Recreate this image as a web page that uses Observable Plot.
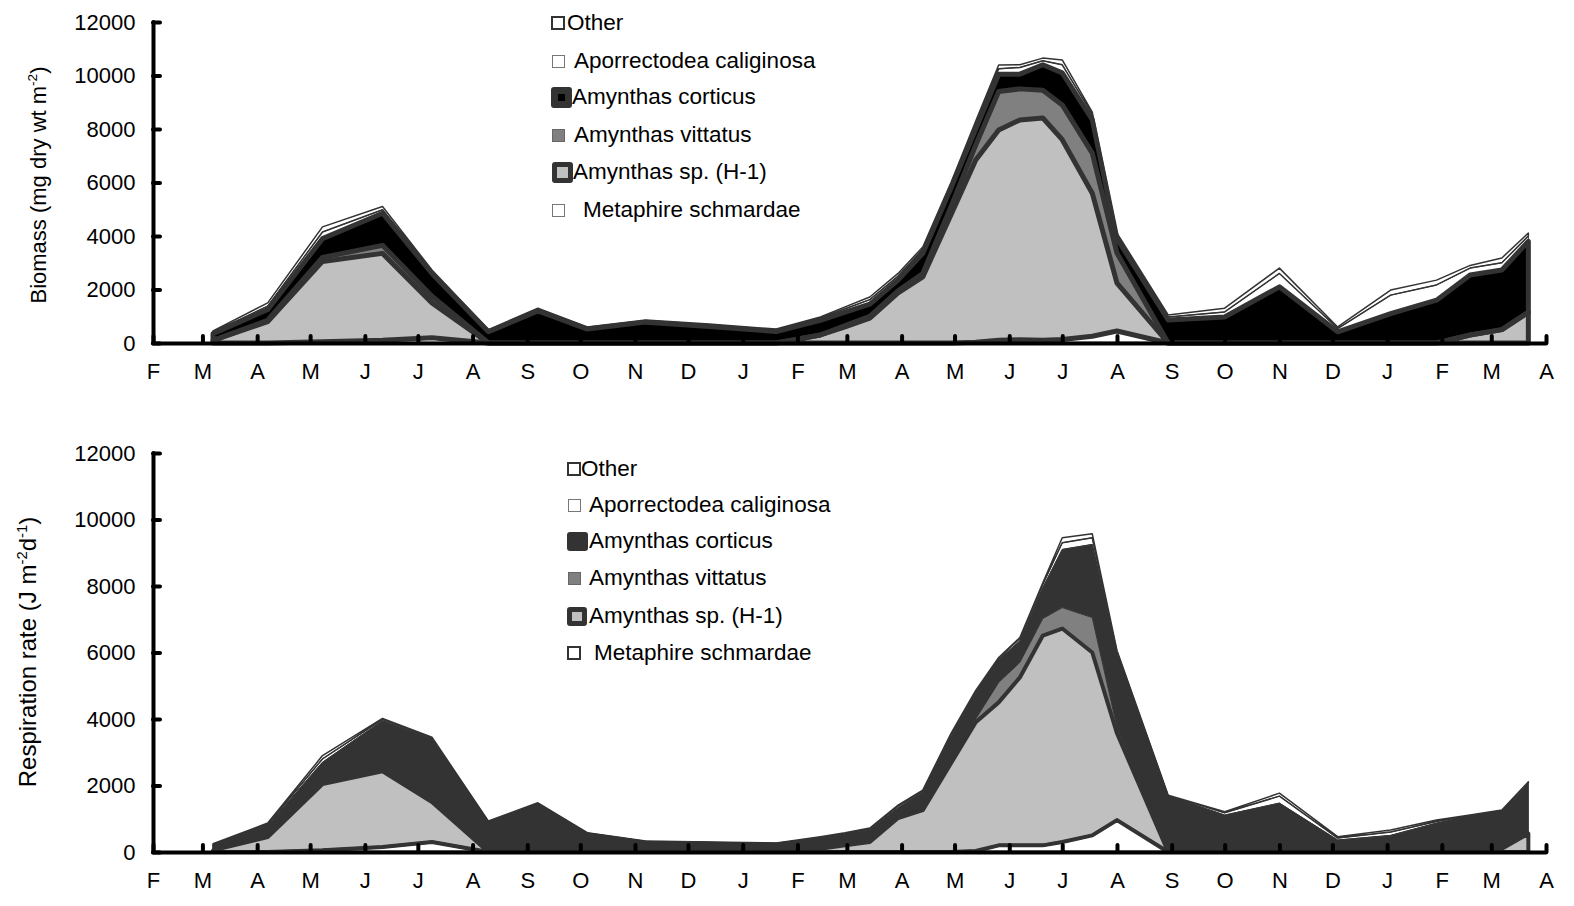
<!DOCTYPE html>
<html><head><meta charset="utf-8">
<script src="https://cdn.jsdelivr.net/npm/d3@7"></script>
<script src="https://cdn.jsdelivr.net/npm/@observablehq/plot@0.6"></script>
<style>
body{margin:0;background:#fff;font-family:"Liberation Sans",Arial,sans-serif;}
#wrap{position:relative;width:1574px;height:906px;overflow:hidden;}
#wrap svg{position:absolute;left:0;}
</style></head><body><div id="wrap"></div>
<script>
// ---- data ----
const sampleDates = ["2001-03-07","2001-04-07","2001-05-08","2001-06-11","2001-07-09","2001-08-10","2001-09-07","2001-10-05","2001-11-07","2001-12-13","2002-01-20","2002-02-14","2002-02-28","2002-03-14","2002-03-30","2002-04-13","2002-04-29","2002-05-13","2002-05-26","2002-06-07","2002-06-20","2002-07-01","2002-07-18","2002-08-01","2002-08-30","2002-10-01","2002-11-01","2002-12-04","2003-01-03","2003-01-29","2003-02-17","2003-03-07","2003-03-22"];
// stack order, bottom to top
const speciesNames = ["Metaphire schmardae","Amynthas sp. (H-1)","Amynthas vittatus","Amynthas corticus","Aporrectodea caliginosa","Other"];
// legend order (top to bottom)
const legendLabels = ["Other","Aporrectodea caliginosa","Amynthas corticus","Amynthas vittatus","Amynthas sp. (H-1)","Metaphire schmardae"];

// Biomass (mg dry wt m-2)
const bioMetaphire    = [0,0,50,100,200,0,0,0,0,0,0, 0,0,0,0,0,0,30,100,120,100,130,250,450, 0,0,0,0,0,0,0,0,0];
const bioAmynthasH1   = [100,800,3000,3250,1300,0,0,0,0,0,0, 300,600,930,1870,2470,4800,6810,7860,8220,8310,7470,5350,1790, 0,0,0,0,0,0,300,500,1150];
const bioVittatus     = [0,50,150,300,250,0,0,0,0,0,0, 0,50,70,80,130,300,560,1440,1160,1040,1300,1500,1120, 0,0,0,0,0,0,0,0,0];
const bioCorticus     = [250,400,700,1200,850,420,1200,520,780,620,430, 550,500,450,400,750,700,600,650,550,950,1200,1250,540, 860,970,2100,420,1100,1600,2240,2230,2650];
const bioAporrectodea = [50,130,250,130,80,40,50,40,40,50,50, 70,130,170,150,150,100,150,200,250,150,300,200,120, 110,190,500,120,690,570,260,270,200];
const bioOther        = [50,120,190,120,50,40,50,40,40,40,40, 50,70,100,100,90,100,150,140,100,100,180,80,90, 80,140,200,60,190,180,100,180,110];

// Respiration rate (J m-2 d-1)
const respMetaphire    = [0,0,50,150,300,0,0,0,0,0,0, 0,0,0,0,0,0,30,200,200,200,300,500,960, 0,0,0,0,0,0,0,0,0];
const respAmynthasH1   = [50,450,1990,2280,1200,0,0,0,0,0,0, 100,200,300,1020,1260,2670,3870,4300,5050,6310,6420,5500,2610, 0,0,0,0,0,0,0,100,550];
const respVittatus     = [0,0,60,20,50,0,0,0,0,0,0, 0,0,0,30,40,30,100,600,450,510,630,1050,180, 0,0,0,0,0,0,0,0,0];
const respCorticus     = [150,350,600,1500,1850,900,1460,570,320,290,260, 330,340,380,280,500,800,800,680,650,930,1750,2200,2250, 1690,1110,1470,360,500,870,1080,1130,1500];
const respAporrectodea = [20,30,100,40,30,20,10,5,5,5,5, 10,20,20,50,30,40,30,40,70,100,200,200,40, 10,70,210,60,100,50,20,20,40];
const respOther        = [30,40,100,30,20,10,10,5,5,5,5, 20,20,20,30,30,30,30,30,30,50,150,120,20, 10,30,90,40,60,40,10,10,20];

const monthLabels = ["F","M","A","M","J","J","A","S","O","N","D","J","F","M","A","M","J","J","A","S","O","N","D","J","F","M","A"];
const yTicks = [0,2000,4000,6000,8000,10000,12000];
const xStart = new Date("2001-02-01"), xEnd = new Date("2003-04-01");
const monthTicks = d3.utcMonth.range(xStart, d3.utcDay.offset(xEnd, 1));

// ---- drawing ----
const W = 1574, ML = 153, MR = 28;
const FONT = '"Liberation Sans", Arial, sans-serif';
const wrap = document.getElementById("wrap");

function chart({values, styles, strokeOrder, top, height, mt, mb, labelParts, labelX, labelY, labelSize}) {
  const plotH = height - mt - mb, plotW = W - ML - MR;
  const rows = [];
  const cum = sampleDates.map(() => 0);
  speciesNames.forEach((s, i) => {
    values[i].forEach((v, j) => {
      rows.push({species: s, date: new Date(sampleDates[j]), lo: cum[j], hi: cum[j] + v});
      cum[j] += v;
    });
  });
  const bySp = s => rows.filter(r => r.species === s);
  const marks = [];
  speciesNames.forEach((s, i) => marks.push(Plot.areaY(bySp(s), {x: "date", y1: "lo", y2: "hi", fill: styles[i].fill})));
  strokeOrder.forEach(i => {
    const st = styles[i];
    if (st.sw > 0) marks.push(Plot.areaY(bySp(speciesNames[i]), {x: "date", y1: "lo", y2: "hi", fill: "none", stroke: st.stroke, strokeWidth: st.sw, strokeLinejoin: "round"}));
  });
  marks.push(
    Plot.ruleY([0], {stroke: "#000", strokeWidth: 4, strokeLinecap: "round"}),
    Plot.ruleX([xStart], {stroke: "#000", strokeWidth: 4, strokeLinecap: "round"}),
    Plot.tickX(monthTicks, {x: d => d, insetTop: plotH - 7, stroke: "#000", strokeWidth: 4, strokeLinecap: "round"}),
    Plot.tickY(yTicks, {y: d => d, insetRight: plotW - 7, stroke: "#000", strokeWidth: 4, strokeLinecap: "round"}),
    Plot.text(monthTicks, {x: d => d, text: (d, i) => monthLabels[i], frameAnchor: "bottom", dy: 35, fontSize: 22, fill: "#000"}),
    Plot.text(yTicks, {y: d => d, text: d => String(d), frameAnchor: "left", dx: -18, textAnchor: "end", fontSize: 22, fill: "#000"})
  );
  const svg = Plot.plot({
    width: W, height, marginLeft: ML, marginRight: MR, marginTop: mt, marginBottom: mb,
    x: {type: "utc", domain: [xStart, xEnd], axis: null},
    y: {domain: [0, 12000], axis: null},
    style: {fontFamily: FONT, background: "transparent", overflow: "visible"},
    marks
  });
  svg.style.top = top + "px";
  const t = d3.select(svg).append("text")
    .attr("transform", `translate(${labelX},${labelY}) rotate(-90)`)
    .attr("text-anchor", "middle").attr("font-size", labelSize).attr("font-family", FONT).attr("fill", "#000");
  labelParts.forEach(p => {
    const ts = t.append("tspan").text(p.t);
    if (p.sup) ts.attr("font-size", labelSize * 0.62).attr("dy", -9);
    else if (p.after) ts.attr("dy", 9);
  });
  wrap.appendChild(svg);
}

function legend(rowsY, swatches, textX) {
  legendLabels.forEach((lab, i) => {
    const sw = swatches[i];
    const d = document.createElement("div");
    Object.assign(d.style, {position: "absolute", left: (sw.cx - sw.w / 2) + "px", top: (rowsY[i] - sw.h / 2) + "px",
      width: sw.w + "px", height: sw.h + "px", boxSizing: "border-box", background: sw.bg,
      border: `${sw.bw}px solid ${sw.bc}`, borderRadius: (sw.r || 0) + "px"});
    wrap.appendChild(d);
    const t = document.createElement("div");
    t.textContent = lab;
    Object.assign(t.style, {position: "absolute", left: textX[i] + "px", top: (rowsY[i] - 13) + "px",
      lineHeight: "26px", fontSize: "22.5px", whiteSpace: "nowrap", color: "#000", fontFamily: FONT});
    wrap.appendChild(t);
  });
}

// top chart: biomass
chart({
  values: [bioMetaphire, bioAmynthasH1, bioVittatus, bioCorticus, bioAporrectodea, bioOther],
  styles: [
    {fill: "#fff", stroke: "#333", sw: 2.5},
    {fill: "#c0c0c0", stroke: "#333", sw: 5},
    {fill: "#808080", stroke: "none", sw: 0},
    {fill: "#000", stroke: "#333", sw: 5},
    {fill: "#fff", stroke: "#333", sw: 1},
    {fill: "#fff", stroke: "#333", sw: 1.5}
  ],
  strokeOrder: [0, 4, 5, 1, 3],
  top: 0, height: 400, mt: 22, mb: 57,
  labelParts: [{t: "Biomass (mg dry wt m"}, {t: "-2", sup: true}, {t: ")", after: true}],
  labelX: 46, labelY: 185, labelSize: 22
});
legend([23, 61, 97, 135, 172, 210], [
  {cx: 558, w: 14, h: 14, bg: "#fff", bw: 2, bc: "#333"},
  {cx: 558, w: 13, h: 13, bg: "#fff", bw: 1, bc: "#777"},
  {cx: 561, w: 21, h: 21, bg: "#000", bw: 7, bc: "#333", r: 3},
  {cx: 558, w: 13, h: 13, bg: "#808080", bw: 1, bc: "#666"},
  {cx: 562, w: 21, h: 21, bg: "#c0c0c0", bw: 5, bc: "#333", r: 3},
  {cx: 558, w: 13, h: 13, bg: "#fff", bw: 1, bc: "#777"}
], [567, 574, 572, 574, 573, 583]);

// bottom chart: respiration
chart({
  values: [respMetaphire, respAmynthasH1, respVittatus, respCorticus, respAporrectodea, respOther],
  styles: [
    {fill: "#fff", stroke: "#333", sw: 3},
    {fill: "#c0c0c0", stroke: "#333", sw: 4},
    {fill: "#808080", stroke: "none", sw: 0},
    {fill: "#333", stroke: "#333", sw: 1},
    {fill: "#fff", stroke: "#333", sw: 1},
    {fill: "#fff", stroke: "#333", sw: 1.5}
  ],
  strokeOrder: [0, 4, 5, 1, 3],
  top: 400, height: 506, mt: 53, mb: 54,
  labelParts: [{t: "Respiration rate (J m"}, {t: "-2", sup: true}, {t: "d", after: true}, {t: "-1", sup: true}, {t: ")", after: true}],
  labelX: 36, labelY: 252, labelSize: 24
});
legend([469, 505, 541, 578, 616, 653], [
  {cx: 574, w: 14, h: 14, bg: "#fff", bw: 2, bc: "#333"},
  {cx: 574, w: 13, h: 13, bg: "#fff", bw: 1, bc: "#777"},
  {cx: 577, w: 21, h: 19, bg: "#333", bw: 0, bc: "#333", r: 3},
  {cx: 574, w: 13, h: 13, bg: "#808080", bw: 1, bc: "#666"},
  {cx: 577, w: 20, h: 19, bg: "#c0c0c0", bw: 5, bc: "#333", r: 3},
  {cx: 574, w: 14, h: 14, bg: "#fff", bw: 2, bc: "#333"}
], [581, 589, 589, 589, 589, 594]);
</script></body></html>
